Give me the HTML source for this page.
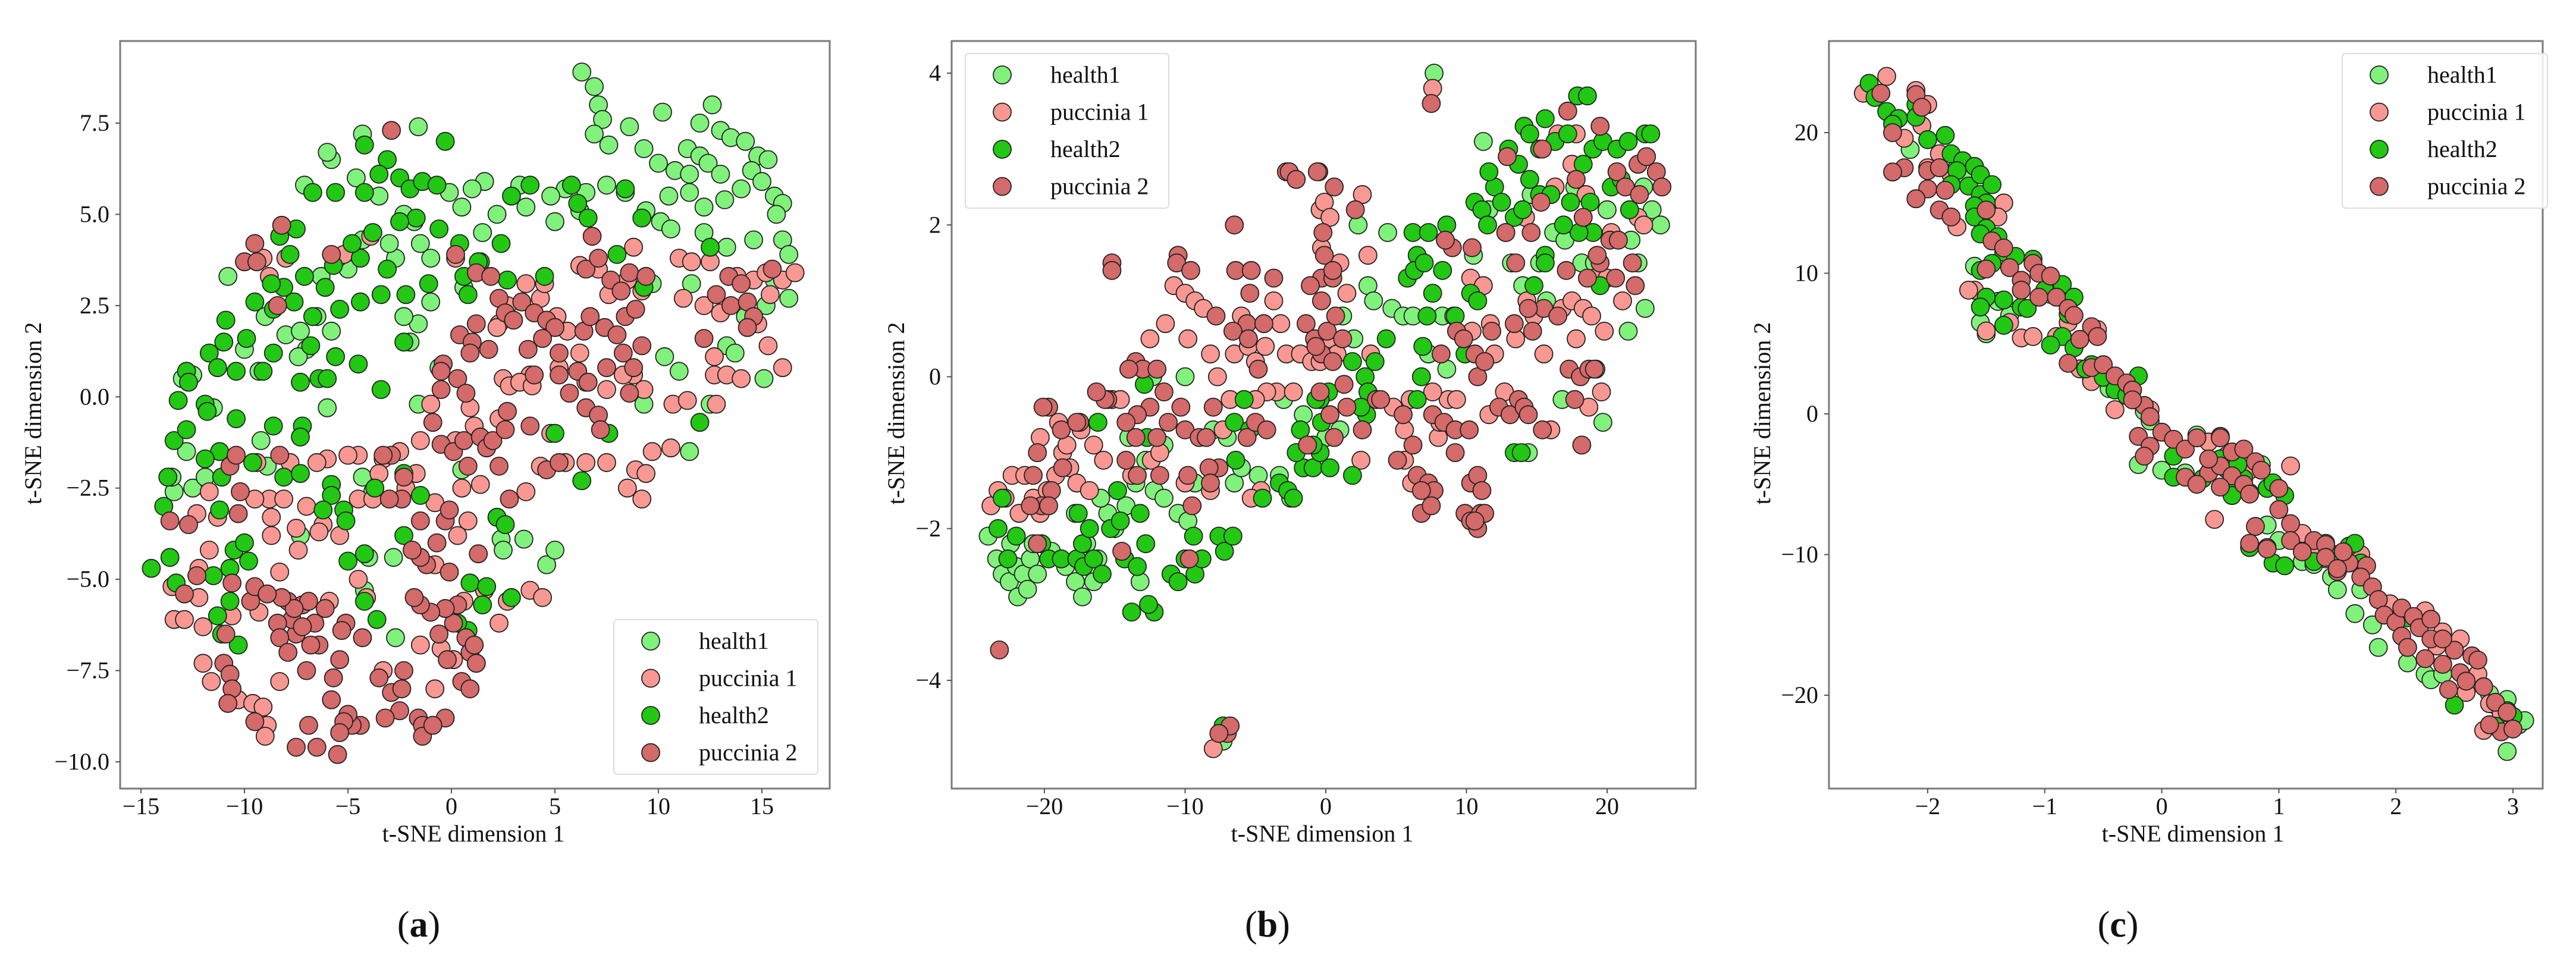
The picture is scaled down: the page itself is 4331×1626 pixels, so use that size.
<!DOCTYPE html>
<html><head><meta charset="utf-8"><style>
html,body{margin:0;padding:0;background:#fff}
svg{display:block;font-family:"Liberation Serif","DejaVu Serif",serif}
text{font-family:"Liberation Serif","DejaVu Serif",serif;fill:#111}
</style></head><body>
<svg id="fig" width="4331" height="1626" viewBox="0 0 4331 1626" xmlns="http://www.w3.org/2000/svg" font-family="Liberation Serif, DejaVu Serif, serif"></svg>
<script>
// ---------- Panel (a) data ----------
const aHealth1 = [6.3,8.9,6.9,8.5,7.1,8,7.3,7.6,6.9,7.2,7.6,6.9,8.6,7.4,10.2,7.8,12.6,8,12,7.5,13,7.3,13.5,7.1,14.2,7,14.8,6.6,15.3,6.5,11.4,6.8,12,6.6,12.4,6.4,9.3,6.8,10,6.4,10.8,6.2,11.5,6.1,13,6.1,14.5,6.2,15,5.9,15.6,5.5,16,5.3,15.7,5,14,5.7,13.2,5.4,12.2,5.2,11.5,5.6,10.5,5.5,9.4,5.1,8.4,5.6,7.5,5.8,6.5,5.6,5.5,5.7,4.8,5.5,5,4.8,6.2,5.1,3.6,5.2,3.3,5.8,10.1,4.8,10.6,4.6,12.2,4.5,13.3,4.1,14.6,4.3,16,4.3,16.3,3.9,15.6,3.2,16.3,2.7,15.2,2.5,14.2,2.2,13.3,1.4,13.7,1.2,15.1,0.5,11,0.7,10.3,1.1,9.7,3.1,11.6,3.1,12.5,-0.2,9.3,-0.2,11.5,-1.5,4.6,-4.6,5,-4.2,2.4,-3.9,2.5,-4.2,3.5,-3.9,2.2,-3.3,0.5,-2,-0.6,0.8,-1,2.6,-1.6,2,-2.3,2.2,-2,1.5,0.6,3,-1,3.8,-1.5,4.2,-2.7,3.8,-3,4.2,-3.8,4.5,-4.3,4.3,-5,3.5,-5.5,3.8,-6.3,3.3,-6.5,2.2,-5.8,1.8,-7,1.3,-7.4,1.1,-8,1.7,-9,2.2,-10,1.3,-10.8,3.3,-9.3,0.7,-12.5,0.6,-13,0.5,-11.5,-0.3,-12.5,-2.5,-12.8,-1.5,-13.4,-2.6,-13.5,-2.2,-11.9,-2.2,-9.2,-1.2,-8.9,-1.9,-6,-0.3,-1.6,-0.2,-4.3,-2.2,-3.8,-2.6,-4,-4.4,-4.2,-5.3,-2.8,-4.4,-2.7,-6.6,-7.3,-3.8,-7.3,1.8,-5.8,6.5,-6,6.7,-4.3,7.2,-1.6,7.4,-7.1,5.8,-4.6,6,-2.3,5,-0.1,5.6,1.6,5.9,1,5.7,0.5,5.2,2.2,5,1.5,4.5,-1.8,4.8,-3.5,5.5];
const aPuccinia1 = [-8,3.8,-9.1,3.8,-8.8,3.3,-3.9,4.4,-5.2,3.9,0.2,3.8,2.7,2.5,2.3,2,2.2,1.9,3.6,3.1,4.3,2.7,4.5,3.1,5.1,2.2,5.6,1.8,6.2,3.6,7.1,3.5,7.6,2.8,8.5,3.2,8.8,4.1,9.2,2.9,11,3.8,11.6,3.7,12.5,3.7,11.2,2.7,12.2,2.5,13,2.3,13.8,3.3,14.6,3.2,15.2,3.4,16,3.2,16.6,3.4,15.4,2.8,14.8,2,12.7,1.1,12.7,0.6,13.3,0.6,14,0.5,15.3,1.4,16,0.8,10.7,-0.2,11.4,-0.1,12.8,-0.2,8.8,0.6,9.3,0.2,8.3,0.6,7.5,0.2,6.5,0.4,6.2,1.2,5.2,0.8,3.8,0.6,2.5,0.5,2.8,0.3,3.3,0.4,3.9,0.3,2.3,-0.6,0.9,-0.3,1.1,-0.8,0.2,-1.2,-1,-0.2,-1.5,-1.2,-2.5,-1.5,-3.3,-1.7,-3.5,-2.1,-4.5,-1.6,-5,-1.6,-6,-1.7,-6.5,-1.8,-7.8,-1.8,-8.8,-2.8,-9.5,-2.8,-8.7,-3.3,-8.1,-2.8,-7,-3,-7.5,-3.6,-6.2,-3.5,-5.4,-3.8,-4.5,-2.8,-3.8,-2.8,-1.7,-2.1,-2.2,-2.5,-0.8,-2.9,0.5,-2.5,1.4,-2.4,3.6,-2.6,4.3,-1.9,4.8,-1,5.5,-1.8,6.5,-1.8,7.5,-1.8,8.9,-2,9.4,-2.1,9.7,-1.5,10.6,-1.4,8.5,-2.5,9.2,-2.8,-11.7,-2.6,-12.3,-3.2,-11.3,-3.3,-11.7,-4.2,-12.2,-4.7,-13.5,-5.2,-13.4,-6.1,-12.2,-5.5,-12,-6.3,-12.9,-6.1,-10.6,-6,-9.3,-5.9,-7.4,-4.2,-8.3,-4.8,-8.7,-3.8,-10.3,-8.3,-9.6,-8.4,-9.1,-8.5,-8.9,-9,-9,-9.3,-8.3,-7.8,-5.9,-5.6,-4.5,-5,-4.1,-5.5,-3.3,-7.5,-1.5,-6.8,-0.8,-8,-0.5,-6.9,0.1,-7.2,1.2,-7.3,2.3,-6.2,1.6,-5.3,2.7,-5.6,0.6,-5.6,3.8,-5.3,4.4,-5.5,-0.8,-4.6,0.8,-3.4,0.3,-3.8,-12,-7.3,-11.6,-7.8,-6.4,-3.7,-9.4,-1.8];
const aHealth2 = [-0.3,7,-4.2,6.9,-3.1,6.5,-3.5,6.1,-4.2,5.6,-5.6,5.6,-6.7,5.6,-7.5,4.6,-8.3,4.4,-7.8,3.9,-2.5,6,-2,5.7,-1.4,5.9,-0.7,5.8,2.9,5.5,5.8,5.8,6.1,5.3,6.6,4.9,8.4,5.7,9.2,4.9,12.5,4.1,8,3.9,9.3,3,4.5,3.3,2.7,3.2,1.4,3.7,0.4,4.2,-0.6,4.6,-1.7,4.9,-2.5,4.8,-3.8,4.5,-3.1,3.5,-4.4,3.8,-4.8,4.2,-5.7,3.6,-6.1,3,-7.1,3.3,-8.1,3,-8.7,3.1,-9.5,2.6,-8.6,2.4,-7.6,2.6,-6.7,2.2,-5.4,2.4,-4.4,2.6,-3.4,2.8,-2.2,2.8,-1.1,3.1,0.6,3.3,-10.9,2.1,-11,1.5,-11.7,1.2,-11.3,0.8,-10.4,0.7,-9.1,0.7,-8.6,1.2,-9.9,1.6,-6.8,1.4,-6.4,0.5,-7.3,0.4,-5.6,1.1,-6,0.5,-4.5,0.9,-3.4,0.2,-2.3,1.5,-12.8,0.7,-12.7,0.4,-13.2,-0.1,-11.9,-0.2,-11.8,-0.4,-10.4,-0.6,-8.6,-0.8,-7.2,-0.8,-13.4,-1.2,-12.8,-0.9,-11.2,-1.5,-11.9,-1.7,-9.6,-1.8,-8.1,-2.2,-7.3,-1.1,-7.3,-2.1,-5.8,-2.4,-5.8,-2.7,-5.2,-3.1,-6.2,-3.1,-5.1,-3.4,-3.7,-2.5,-2.3,-2.1,-1.5,-2.7,-2.3,-3.8,-13.7,-2.2,-13.9,-3,-11.1,-2.2,-11.2,-3.1,-11.5,-4.9,-10.5,-4.2,-10,-4,-9.8,-4.5,-10.7,-4.7,-13.6,-4.4,-13.3,-5.1,-14.5,-4.7,-11.3,-6,-11.1,-6.5,-10.7,-5.6,-10.3,-6.8,-4.2,-4.3,-5,-4.5,-4.2,-5.6,-3.6,-6.1,0.9,-5.1,1.7,-5.2,2.9,-5.5,1.5,-5.7,0.8,-6.4,2.2,-3.3,2.6,-3.5,0.3,-6.2,5,-1,7.6,-1,6.3,-2.3,12,-0.7,1.3,3.7,2.4,4.2,0.8,2.8,3.8,5.8];
const aPuccinia2 = [-2.9,7.3,-8.2,4.7,-9.5,4.2,-10,3.7,-9.4,3.7,-5.8,3.9,-8.4,2.5,0.2,3.9,1.2,3.4,1.9,3.3,2.3,2.7,2.6,2.3,3,2.1,3.4,2.6,4,2.3,4.6,2.1,5,1.9,4.4,1.6,5.2,1.2,6.4,1.8,6.7,2.2,7.4,1.9,8,1.7,8.4,2.2,8.3,1.2,8.9,2.4,9.2,1.4,6.8,4.4,6.5,3.5,7.1,3.8,7.7,3.2,8.6,3.4,8.2,2.9,9.4,3.3,12.2,1.6,12.8,2.8,13.4,3.3,14,3.1,13.5,2.5,14.3,2.6,14.6,2.2,14.3,1.9,15.5,3.5,0.4,1.7,1,1.5,1.2,2,1.8,1.3,0.9,1.2,-0.4,0.9,-0.5,0.2,0.3,0.5,0.7,0.1,-0.5,0.7,3.7,1.3,4,0.6,5.2,0.6,6.1,0.7,6.6,0.4,5.7,0.1,6.5,-0.3,7.1,-0.5,7.5,0.8,8.8,0.8,8.6,0.1,-0.9,-0.7,-0.5,-1.3,0.1,-1.5,0.6,-1.2,0.8,-1.9,1.4,-1.1,1.7,-1.4,2,-1.2,2.7,-0.4,2.3,-1.9,3.8,-0.8,4.6,-2,5.2,-1.8,7.2,-0.9,2.8,-2.8,2.6,-0.9,-0.1,-4.8,0.3,-5.7,1.3,-4.3,0.1,-6.2,0.7,-6.6,0.9,-7,1.2,-7.3,0.5,-7.8,0.9,-8,1.1,-6.8,-0.2,-7.2,-0.3,-5.8,-0.6,-6.5,-1,-5.9,-1.5,-5.7,-1.8,-5.5,-1.2,-4.6,-1.5,-4.4,-1.9,-4.2,-1.5,-3.4,-0.3,-3.4,-0.1,-3.1,-0.7,-4,-2.4,-2.8,-2.9,-1.6,-5.1,-6.2,-5.3,-6.4,-5.4,-7.2,-5.7,-7.7,-5.8,-8.3,-4.3,-6.6,-3.5,-7.7,-2.9,-8.1,-2.4,-8,-2.3,-7.5,-2.5,-8.6,-4.4,-9,-4.8,-9,-5,-8.7,-5.2,-8.9,-5.4,-9.2,-5.5,-9.8,-6.5,-9.6,-7.5,-9.6,-6.9,-9,-3.2,-8.8,-1.6,-8.8,-1.4,-9,-1.4,-9.3,-0.3,-8.8,-0.9,-9,-6.6,-6.2,-6.4,-6.8,-7,-7.5,-7.5,-6.5,-7.7,-6.1,-7.9,-5.6,-8.4,-6.2,-8.3,-6.6,-7.9,-7,-7.2,-6.3,-7.2,-5.7,-6.8,-6.8,-6.1,-5.8,-6.9,-5.6,-7.6,-5.8,-8.2,-5.5,-10.3,-3.2,-10.2,-2.6,-10.7,-1.9,-10.4,-1.6,-8.3,-1.6,-12.7,-3.5,-13.6,-3.4,-12.3,-4.9,-12.9,-5.4,-10.6,-5.1,-9.7,-5.6,-9.5,-5.2,-8.9,-5.4,-10.9,-6.5,-11,-7.3,-10.7,-7.6,-10.6,-8,-10.8,-8.4,-9.5,-8.9,-3.3,-1.6,-3,-2.8,-2.3,-2.2];
const aXTicks = [-15,-10,-5,0,5,10,15];
const aXTickLabels = ["−15","−10","−5","0","5","10","15"];
const aYTicks = [7.5,5,2.5,0,-2.5,-5,-7.5,-10];
const aYTickLabels = ["7.5","5.0","2.5","0.0","−2.5","−5.0","−7.5","−10.0"];

// ---------- Panel (b) data ----------
const bHealth1 = [-24,-2.1,-23.4,-2.4,-23,-2.6,-22.5,-2.7,-22,-2.5,-21.5,-2.6,-21,-2.4,-20.8,-2.2,-22.4,-2.2,-21.9,-2.9,-21.2,-2.8,-20.5,-2.6,-19.5,-2.3,-18.5,-2.5,-17.8,-2.7,-17.3,-2.9,-16.5,-2.7,-17,-2.2,-16.2,-2.4,-15.5,-1.8,-16,-1.6,-15,-2,-14.2,-1.7,-13.5,-1.4,-12.8,-1.1,-12.2,-1.5,-11.5,-1.6,-10.5,-1.8,-9.8,-1.9,-13.2,-2.7,-9.3,-1.4,-8,-0.7,-7,-0.8,-6.5,-1.4,-6,-1.2,-4.8,-1.3,-3.3,-1.3,-2.5,-1.6,-3,-0.3,-1.6,-0.5,0,-0.8,1,-0.7,1.2,0.8,2,0.5,3,1.2,3.4,1,4.4,1.9,4.7,0.9,5.5,0.8,2.3,2,6.2,0.8,7.3,0.3,8.3,0.8,9.1,0.8,8.6,0.1,10.5,1.6,11.6,2.2,11.2,3.1,13.2,1.5,14,1.2,15.2,1.5,14.6,2.4,15.7,1,16.2,1.9,17,1.8,17.7,2.5,18.2,1.5,19.1,1.5,20,2.2,21.7,1.8,22.2,1.5,21.5,0.6,22.6,2.5,23.2,2.2,23.8,2,22.7,0.9,19.2,0.1,19.7,-0.6,16.8,-0.3,14.4,-1,7.7,4,-7.3,-4.8,-11.5,-0.9,-12.3,0,-14,-0.8,-17.8,-1.8,-10,0];
const bPuccinia1 = [-23.8,-1.7,-23.3,-1.5,-22.8,-1.6,-22.3,-1.3,-21.8,-1.8,-21.4,-1.3,-20.8,-1.6,-20.3,-1.8,-19.8,-1.5,-19.2,-1.3,-18.7,-1,-18.2,-1.2,-17.7,-1.4,-17.5,-0.6,-17.4,-0.7,-18.4,-0.9,-16.5,-0.9,-16.8,-1.5,-15.8,-1.1,-15.2,-0.3,-14.6,-0.3,-12.5,0.5,-11.4,0.7,-10.8,1.2,-10,1.1,-9.8,0.5,-9.3,1,-8.7,0.9,-8.2,0.3,-7.7,0,-7.3,-0.7,-6.8,-0.3,-6.5,0.3,-6,0.8,-5.5,0.4,-5,0.2,-4.3,0.4,-3.7,1,-3.2,0.7,-2.8,0.3,-3.5,-0.2,-4.2,-0.2,-5,-0.3,-2.3,-0.2,-1.8,0.3,-1,0.2,-0.4,0.2,0.2,0.5,0.8,0.3,-0.4,2.2,-0.1,2.3,0.3,2.1,-0.3,1.7,1,1.5,1.5,1.1,2.6,2.4,3,1.6,3.2,0.3,4.8,-0.4,5.6,-0.7,6,-0.3,5.6,-1.1,8,-0.8,8.7,-0.3,9.3,-0.3,10.4,0.6,10.3,1.3,11.7,0.7,12,0.3,12.7,-0.2,11.6,-0.5,13.5,0.5,14.3,1,14.8,0.8,15.5,0.3,16,-0.7,16.8,0.9,17.5,1,18.3,0.9,17.8,0.5,18.9,0.8,19.8,0.6,19.6,-0.2,18.7,-0.4,19.1,1.3,20,1.3,21.1,1,22.2,2.1,22.6,2,20.3,1.9,18.5,2.4,16.3,2.5,17.5,2.8,17.8,3.2,16.5,3.2,14.2,2.1,11.2,1.2,7.6,-0.2,8.1,-0.6,-4.6,-1.5,-5.3,-1.6,-8.2,-1.5,-10,-1.4,-12.4,-1.1,-13.8,-1.3,-11.8,-1,7.6,3.8,-8,-4.9,2.5,-1.1,6.1,-1.4,-19,-0.6,-20.3,-0.8];
const bHealth2 = [-23,-1.6,-23.3,-2,-22.6,-2.4,-22,-2.1,-20.2,-2.2,-19.7,-2.4,-18.8,-2.4,-17.7,-2.4,-17.2,-2.5,-16.5,-2.4,-17.3,-2.2,-16.8,-2,-15.9,-2.6,-17.6,-1.8,-15.3,-2,-14.6,-1.9,-14.3,-2.4,-13.2,-1.8,-13.4,-2.5,-12.8,-2.2,-12.2,-3.1,-12.6,-3,-13.8,-3.1,-11,-2.6,-10.5,-2.7,-10,-2.4,-9.4,-2.1,-9.3,-2.6,-8.8,-2.4,-7.6,-2.1,-7.2,-2.3,-6.6,-2.1,-7.3,-4.6,-14.8,-1.5,-12.7,-0.8,-12.9,-0.1,-16.2,-0.6,-6.4,-1.1,-6.5,-0.6,-5.8,-0.3,-5.4,-0.7,-4.5,-1.6,-3.3,-1.4,-2.7,-1.5,-2.3,-1.6,-1.6,-1.2,-1.8,-0.7,-2.1,-1,-0.9,-1.2,-0.4,-1,-0.3,-0.6,0.2,-0.2,-0.9,-0.9,0.3,-1.2,1.9,-1.3,1.9,0.2,2.8,0,3,-0.2,2.9,-0.5,2.5,-0.4,3.5,0.2,4.3,0.5,5.8,1.3,6.2,1.9,6.5,1.6,6.3,1.4,7,1.5,7.3,1.9,7.6,1.1,8.3,1.4,8.6,2,9.2,0.8,10.3,1.1,9.9,0.3,6.9,0.4,6.5,-0.3,6.8,0,7.2,0.8,10.6,2.3,11.1,2.2,11.5,2,12,2.5,12.5,2.3,12.8,1.9,13.4,2.1,14,2.2,14.5,2.6,13.7,2.8,13,3,14.1,3.3,14.5,3.2,15.2,3,15.6,3.4,16.3,3.1,17.2,3.2,17.9,3.7,18.6,3.7,18.3,2.8,19,3,19.7,3.1,20.7,3,21.5,3.1,22.7,3.2,23.1,3.2,15.2,2.4,16,2.4,17.4,2.3,18.8,2.3,20.3,2.5,21,2.6,21.6,2.2,19,1.9,18,1.9,16.9,2,15.6,1.6,14.8,1.2,11.6,2.7,10.8,1,13.4,-1,13.9,-1,19.5,1.2,15.6,1.5,-0.4,-0.3,-0.7,-0.3];
const bPuccinia2 = [-23.2,-3.6,-7,-4.7,-6.8,-4.6,-7.6,-4.7,-15.2,1.5,-15.2,1.4,7.5,3.6,-2.8,2.7,-2.6,2.7,-0.5,2.7,-0.6,2.7,-2.1,2.6,0.6,2.5,-6.5,2,-0.2,1.9,-0.1,1.6,-0.3,1.3,0.5,1.3,-1.1,1.2,-0.3,1,-10.5,1.6,-10.6,1.5,-9.6,1.4,-6.4,1.4,-5.3,1.4,-5.4,1.1,-3.7,1.3,-5.6,0.7,-6.6,0.6,-7.8,0.8,-4.4,0.7,-5.5,0.5,-4.8,0.1,-1.4,0.7,-0.8,0.5,0.1,0.6,0.7,0.8,1.2,0.5,-0.3,0.3,0.5,0.2,1.3,-0.1,-0.7,0.4,1.5,-0.4,-13.5,0.2,-13,0.1,-12,0.1,-14,0.1,-11.5,-0.2,-12.5,-0.4,-13.4,-0.5,-15.5,-0.3,-14.2,-0.6,-15.7,-0.3,-16.3,-0.2,-19.7,-0.4,-20.1,-0.4,-18.8,-0.7,-17.5,-0.6,-12,-0.8,-11.2,-0.6,-10,-0.7,-9,-0.8,-8,-0.4,-10.3,-0.4,-8.5,-0.8,-7.6,-1.2,-8.3,-1.2,-5.6,-0.8,-5,-0.6,-4.2,-0.7,-13.5,-0.8,-14.2,-1.1,-13.4,-1.3,-11.8,-1.3,-9.8,-1.3,-9.5,-1.7,-8.2,-1.4,-17.7,-0.6,-18.7,-1.2,-20.5,-1,-20.8,-1.3,-20.2,-1.7,-19.5,-1.5,-19.7,-1.7,-21,-1.7,-20.5,-2.2,-14.5,-2.3,-9.7,-2.4,-1.3,-0.9,0.3,-0.5,2.6,-0.7,3.6,-0.3,5.5,-0.5,6.2,-0.9,6.5,-1.3,7.3,-1.4,7.7,-1.5,6.8,-1.5,7.6,-0.5,8.4,-0.6,9.2,-0.7,9.2,-1,10.2,-0.7,10.3,-1.4,10.8,-1.3,11.1,-1.5,9.9,-1.8,10.3,-1.9,10.8,-2,11,-1.8,11.3,-1.8,10.6,-1.9,6.8,-1.8,7.5,-1.7,5.1,-1.1,3.9,-0.3,8.2,0.3,9.3,0.6,9.8,0.5,10.6,0.3,10.8,0,11.3,0.2,11.8,0.6,12.3,-0.4,13.1,-0.5,13.7,-0.3,14.1,-0.4,14.4,-0.5,15.4,-0.7,14.7,0.6,13.4,0.7,15.5,0.9,16.5,0.8,17.3,0.1,18.1,0,18.7,0.1,17.7,-0.3,19.1,0.1,18.2,-0.9,18.6,1.3,19.5,1.5,20.6,1.3,21.8,1.5,22,1.2,19.3,1.6,20.2,1.8,20.8,1.8,17.1,1.4,18.3,2.1,13.5,1.5,14.4,0.9,14.6,1.9,15.3,2.3,15.4,3,17.2,3.5,19.5,3.3,17.8,2.6,20.7,2.7,21.3,2.5,22.2,2.8,22.8,2.9,23.5,2.7,23.9,2.5,22.3,2.4,12.9,2.9,12.8,1.9,10.4,1.7,9,1.7,8.5,1.8,2.1,2.2,0.5,1.4,-0.4,-0.2,0.6,-0.8];
const bXTicks = [-20,-10,0,10,20];
const bXTickLabels = ["−20","−10","0","10","20"];
const bYTicks = [4,2,0,-2,-4];
const bYTickLabels = ["4","2","0","−2","−4"];

// ---------- Panel (c) data ----------
const cHealth1 = [-2.5,23,-2.3,21,-2.15,18.8,-1.75,17.5,-1.7,17,-1.5,14.7,-1.6,10.5,-1.55,6.5,-1.5,5.7,-1.3,7,-1.4,8,-0.95,8.5,-0.5,3.1,-0.6,2.4,-0.45,1.8,-0.35,2,-0.15,0.2,-0.1,-0.5,-0.2,-3.6,0,-4,0.2,-4.2,0.3,-1.5,0.85,-3.6,0.9,-7.9,1,-9,1.2,-10.5,1.3,-10.7,1.45,-11.6,1.5,-12.5,1.6,-9.5,1.65,-14.2,1.8,-15,1.85,-16.6,2.1,-17.7,2.25,-18.5,2.3,-18.9,2.4,-18.5,2.8,-19.9,2.85,-20.7,2.95,-20.3,2.95,-24,3.05,-22.1,3.1,-21.8,1.7,-12.5,1.4,-10.3];
const cPuccinia1 = [-2.55,22.8,-2.35,24,-2.1,23,-2,22,-2.05,20.5,-2.2,19.6,-1.9,18.5,-2,17.5,-1.8,17,-1.35,15,-1.4,14,-1.6,14,-1.75,13.3,-1.6,8.8,-1.65,8.8,-1.5,5.9,-1.3,6.5,-1.2,5.4,-1.1,5.5,-0.9,5.5,-0.8,6.5,-0.55,6,-0.7,3.2,-0.6,2.3,-0.4,0.3,-0.1,0.3,0.4,-2,0.5,-1.6,0.55,-3,0.65,-2.8,0.45,-7.5,1.1,-3.7,0.75,-4,0.9,-9.5,1.2,-8.5,1.3,-9.5,1.7,-10,2.25,-14,2.4,-15.5,2.55,-16,2.35,-16.5,2.7,-18.5,2.6,-19.8,2.8,-20.6,2.9,-21.3,2.75,-22.5,1.95,-13.5];
const cHealth2 = [-2.5,23.5,-2.45,22.5,-2.35,21.5,-2.25,21,-2.3,20.6,-2.1,22,-2.1,21.1,-1.85,19.8,-1.8,18.5,-1.7,18,-1.6,17.6,-1.75,17.3,-1.8,16.3,-1.65,16.2,-1.55,15.6,-1.5,15,-1.55,17,-1.45,16.3,-1.6,14.8,-1.6,14,-1.5,13.2,-1.55,12.8,-1.35,11.5,-1.4,12.6,-1.25,11.2,-1.45,10.7,-1.55,10.2,-1.5,8.3,-1.55,7.6,-1.35,8.1,-1.2,7.6,-1.35,6.3,-1.15,7.5,-1,8.8,-0.85,9.2,-0.75,8.3,-0.8,7.1,-0.85,5.5,-0.95,4.9,-0.75,4.7,-0.6,3.5,-0.5,2.6,-0.4,1.7,-0.2,2.7,-0.3,1.3,0.1,-3,0.1,-4.5,0.35,-4.6,0.5,-3.2,0.55,-3.9,0.6,-4.7,0.7,-4.6,0.75,-5.6,0.6,-5.8,0.9,-5.3,0.95,-4.9,1.05,-5.8,0.75,-9.5,0.95,-10.6,1.05,-10.8,1.3,-10.5,1.4,-9.2,1.6,-9.4,1.7,-10.6,1.5,-10,2.1,-14.5,2.5,-20.7,2.95,-21.1,2.85,-22.2,3,-21.5,1.65,-9.2,0.65,-3.6,-0.65,3.2,-1.1,11,-2,19.5];
const cPuccinia2 = [-2.4,22.8,-2.1,22.7,-2.05,21.8,-2.3,20,-2.2,17.5,-2.3,17.2,-2,17.3,-1.9,17.5,-2,16,-1.85,15.9,-2.1,15.3,-1.9,14.5,-1.8,14,-1.5,14.5,-1.45,12.3,-1.35,11.8,-1.5,10.3,-1.3,10.4,-1.1,10.7,-1.05,10,-1.2,9.5,-0.95,9.8,-1.2,8.8,-1.05,8.3,-0.9,8.3,-0.8,7.5,-0.75,7,-0.6,6.2,-0.55,5.5,-0.7,5.3,-0.8,3.6,-0.6,3.3,-0.5,3.5,-0.4,2.7,-0.3,2.2,-0.25,1.7,-0.15,0.6,-0.1,-0.2,-0.2,-1.6,-0.1,-2.3,-0.15,-3,0,-1.3,0.1,-1.8,0.2,-2.5,0.3,-1.7,0.4,-4.2,0.5,-3.7,0.4,-3.2,0.6,-2.7,0.5,-1.7,0.7,-2.5,0.8,-3.4,0.6,-4.4,0.5,-5.2,0.7,-5,0.75,-5.7,0.85,-4,1,-5.3,1,-6.8,1.1,-7.8,0.8,-8,0.75,-9.2,0.9,-9.6,1.1,-9,1.3,-9,1.4,-9.3,1.2,-9.8,1.4,-10.2,1.5,-11.2,1.6,-10.6,1.55,-9.8,1.75,-10.8,1.7,-11.6,1.8,-12.3,1.85,-13.2,1.9,-14.3,2,-14.8,2.05,-13.8,2.15,-14.4,2.2,-15.2,2.3,-14.6,2.05,-15.8,2.1,-16.6,2.3,-16,2.25,-17.4,2.4,-17.8,2.5,-16.8,2.4,-16,2.55,-18.4,2.45,-19.6,2.6,-19,2.65,-17.2,2.7,-17.5,2.75,-19.4,2.85,-20.5,2.95,-21.2,2.9,-22.6,3,-22.4,2.8,-22.1,0.2,-4.5,0.3,-5,1.5,-11,-0.25,1];
const cXTicks = [-2,-1,0,1,2,3];
const cXTickLabels = ["−2","−1","0","1","2","3"];
const cYTicks = [20,10,0,-10,-20];
const cYTickLabels = ["20","10","0","−10","−20"];

const seriesNames = ["health1","puccinia 1","health2","puccinia 2"];

const NS = "http://www.w3.org/2000/svg";
const svg = document.getElementById('fig');
const COLORS = ["#80f27b","#f99892","#22c813","#d46a69"];
const R = 15;
const FONT = '"Liberation Serif", "DejaVu Serif", serif';

function mk(tag, attrs, parent){
  const e = document.createElementNS(NS, tag);
  for (const k in attrs) e.setAttribute(k, attrs[k]);
  if (tag === 'text') e.setAttribute('font-family', FONT);
  (parent||svg).appendChild(e);
  return e;
}

function drawPanel(p){
  const g = mk('g', {});
  
  
  const sx = v => p.px0 + (v - p.vx0) * (p.px1 - p.px0) / (p.vx1 - p.vx0);
  const sy = v => p.py0 + (v - p.vy0) * (p.py1 - p.py0) / (p.vy1 - p.vy0);
  const clip = mk('clipPath', {id: 'clip-' + p.id}, g);
  mk('rect', {x: p.L, y: p.T, width: p.Rt - p.L, height: p.B - p.T}, clip);
  const pts = mk('g', {'clip-path': 'url(#clip-' + p.id + ')'}, g);
  
  
  p.series.forEach((arr, si) => {
    const sg = mk('g', {}, pts);
    
    
    for (let i = 0; i + 1 < arr.length; i += 2) {
      const c = mk('circle', {cx: sx(arr[i]).toFixed(1), cy: sy(arr[i+1]).toFixed(1), r: R, fill: COLORS[si], stroke: '#222', 'stroke-width': 1.8}, sg);
      
      
    }
  });
  const fr = mk('rect', {x: p.L, y: p.T, width: p.Rt - p.L, height: p.B - p.T, fill: 'none', stroke: '#7a7a7a', 'stroke-width': 3}, g);
  
  
  p.xt.forEach((v, i) => {
    const x = sx(v);
    mk('line', {x1: x, y1: p.B, x2: x, y2: p.B + 8, stroke: '#555', 'stroke-width': 2}, g);
    const t = mk('text', {x: x, y: p.B + 43, 'font-size': 40, 'text-anchor': 'middle'}, g);
    t.textContent = p.xl[i];
    
    
  });
  p.yt.forEach((v, i) => {
    const y = sy(v);
    mk('line', {x1: p.L - 8, y1: y, x2: p.L, y2: y, stroke: '#555', 'stroke-width': 2}, g);
    const t = mk('text', {x: p.L - 18, y: y + 13, 'font-size': 40, 'text-anchor': 'end'}, g);
    t.textContent = p.yl[i];
    
    
  });
  const xl = mk('text', {x: p.xlabX, y: 1415, 'font-size': 40, 'text-anchor': 'middle'}, g);
  xl.textContent = 't-SNE dimension 1';
  
  
  const yl = mk('text', {x: 0, y: 0, 'font-size': 40, 'text-anchor': 'middle', transform: 'translate(' + (p.ylabX + 13) + ',695) rotate(-90)'}, g);
  yl.textContent = 't-SNE dimension 2';
  
  
  const lg = mk('g', {}, g);
  
  
  mk('rect', {x: p.lgX, y: p.lgY, width: p.lgW, height: 260, rx: 6, fill: '#fff', 'fill-opacity': 0.85, stroke: '#ddd', 'stroke-width': 2}, lg);
  seriesNames.forEach((n, i) => {
    const y = p.lgY + 36 + i * 62.5;
    const e = mk('g', {}, lg);
    
    
    mk('circle', {cx: p.lgX + 62, cy: y, r: R, fill: COLORS[i], stroke: '#222', 'stroke-width': 1.8}, e);
    const t = mk('text', {x: p.lgX + 143, y: y + 13, 'font-size': 40}, e);
    t.textContent = n;
  });
  const cap = mk('text', {x: p.capX, y: 1575, 'font-size': 62, 'text-anchor': 'middle'}, g);
  cap.innerHTML = '(<tspan font-weight="bold">' + p.id + '</tspan>)';
  
  
}

drawPanel({id:'a', series:[aHealth1,aPuccinia1,aHealth2,aPuccinia2], L:202, Rt:1395, T:69, B:1326,
  vx0:-15, px0:237, vx1:15, px1:1281, vy0:-10, py0:1281, vy1:7.5, py1:207,
  xt:aXTicks, xl:aXTickLabels, yt:aYTicks, yl:aYTickLabels, xlabX:796, ylabX:56,
  lgX:1032, lgY:1042, lgW:343, capX:704});
drawPanel({id:'b', series:[bHealth1,bPuccinia1,bHealth2,bPuccinia2], L:1600, Rt:2851, T:69, B:1326,
  vx0:-20, px0:1756, vx1:20, px1:2702, vy0:4, py0:123, vy1:-4, py1:1144,
  xt:bXTicks, xl:bXTickLabels, yt:bYTicks, yl:bYTickLabels, xlabX:2223, ylabX:1507,
  lgX:1623, lgY:90, lgW:342, capX:2131});
drawPanel({id:'c', series:[cHealth1,cPuccinia1,cHealth2,cPuccinia2], L:3075, Rt:4275, T:69, B:1326,
  vx0:-2, px0:3241, vx1:3, px1:4225, vy0:20, py0:223, vy1:-20, py1:1169,
  xt:cXTicks, xl:cXTickLabels, yt:cYTicks, yl:cYTickLabels, xlabX:3687, ylabX:2963,
  lgX:3938, lgY:90, lgW:345, capX:3561});
</script>
</body></html>
